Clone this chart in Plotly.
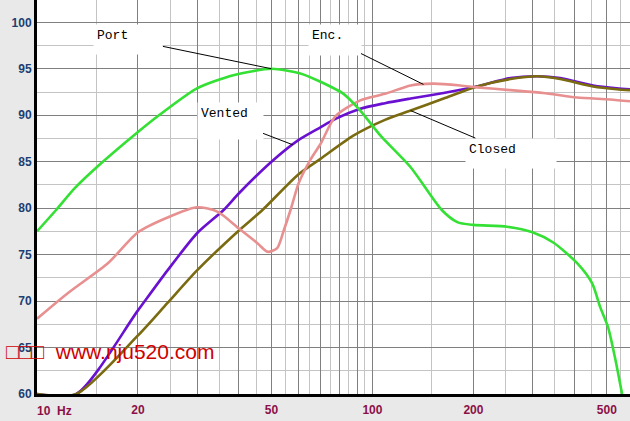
"""SPL response of port, vented, enclosure and closed alignments."""

from __future__ import annotations

import numpy as np
import plotly.graph_objects as go

# curve data: frequency (Hz) and level (dB)
PORT_FREQ = [10, 11.4, 13, 15.5, 20, 23.1, 30, 38.5, 50, 61, 70, 82, 92, 105.7, 130, 161,
             179, 200, 252, 300, 346, 407, 452, 477, 504, 528, 555]
PORT_DB = [77.5, 79.8, 82.2, 84.8, 88.2, 90.0, 92.9, 94.3, 95.0, 94.5, 93.6, 92.3, 90.5, 87.8,
           84.4, 79.8, 78.5, 78.2, 78.0, 77.4, 76.3, 74.1, 71.9, 69.4, 67.2, 64.0, 60.0]

ENC_FREQ = [10, 12.4, 16.3, 20, 24.5, 30, 34.6, 40, 45.5, 48.7, 52, 54.4, 57, 60.3, 65.3, 70,
            77.6, 92, 109, 130, 152, 183, 205, 258, 323, 407, 511, 586]
ENC_DB = [68.1, 70.9, 74.1, 77.4, 79.0, 80.1, 79.6, 77.8, 76.2, 75.3, 75.7, 77.6, 79.8, 82.7,
          85.2, 86.9, 89.9, 91.6, 92.3, 93.2, 93.4, 93.2, 93.0, 92.7, 92.4, 91.9, 91.7, 91.5]

VENTED_FREQ = [10, 13.1, 20, 24.5, 30, 36, 40, 50, 60, 70, 77.6, 92, 109, 130, 163, 205, 258,
               310, 363, 455, 535, 586]
VENTED_DB = [60.0, 60.0, 69.0, 73.3, 77.3, 79.8, 81.6, 85.0, 87.3, 88.7, 89.6, 90.7, 91.3, 91.8,
             92.4, 93.1, 94.0, 94.2, 94.0, 93.2, 92.9, 92.8]

CLOSED_FREQ = [10, 13.1, 20, 24.5, 30, 40, 47, 60, 70, 87.7, 109, 130, 163, 205, 258, 310, 363,
               455, 535, 586]
CLOSED_DB = [60.0, 60.0, 66.3, 69.8, 73.3, 77.6, 79.8, 83.6, 85.3, 87.8, 89.5, 90.5, 91.8, 93.1,
             93.9, 94.2, 93.9, 93.1, 92.8, 92.7]

Y_TICKS = [60, 65, 70, 75, 80, 85, 90, 95, 100]
Y_MINOR = [62.5, 67.5, 72.5, 77.5, 82.5, 87.5, 92.5, 97.5, 102.5]
X_MAJOR = [10, 20, 30, 40, 50, 60, 70, 80, 90, 100, 200, 300, 400, 500]
X_MINOR = [15, 25, 35, 45, 55, 65, 75, 85, 95, 150, 250, 350, 450, 550]
X_LABELS = {20: "20", 50: "50", 100: "100", 200: "200", 500: "500"}

# label text, curve it points at, frequency of the leader end, box size, pixel offset
LABELS = [
    ("Port", "port", 50, 68, 29, -143, -29.5),
    ("Enc.", "enc", 142, 52, 30, -89, -44),
    ("Vented", "vented", 57.8, 65, 36, -62.5, -24),
    ("Closed", "closed", 130, 90, 29, 100, 42.5),
]

CURVES = {
    "closed": (CLOSED_FREQ, CLOSED_DB, "#7a6a10"),
    "vented": (VENTED_FREQ, VENTED_DB, "#6a10d0"),
    "enc": (ENC_FREQ, ENC_DB, "#e89090"),
    "port": (PORT_FREQ, PORT_DB, "#33e033"),
}
DRAW_ORDER = ["vented", "closed", "enc", "port"]
PAD = 3


def level_at(key: str, freq: float) -> float:
    """Interpolate a curve's level on the log-frequency axis."""

    f, db, _ = CURVES[key]
    return float(np.interp(np.log10(freq), np.log10(f), db))


fig = go.Figure()
for key in DRAW_ORDER:
    f, db, color = CURVES[key]
    fig.add_trace(
        go.Scatter(
            x=f,
            y=db,
            mode="lines",
            name=key,
            line={"color": color, "width": 2.6, "shape": "spline", "smoothing": 0.7},
            showlegend=False,
        )
    )

for text, key, freq, w, h, ax, ay in LABELS:
    fig.add_annotation(
        x=np.log10(freq),
        y=level_at(key, freq),
        text=text,
        showarrow=True,
        arrowhead=0,
        arrowwidth=1,
        arrowcolor="black",
        standoff=0,
        ax=ax,
        ay=ay,
        width=w - 2 * PAD,
        height=h - 2 * PAD,
        align="left",
        valign="top",
        bgcolor="white",
        borderpad=PAD,
        font={"family": "Liberation Mono", "size": 13, "color": "black"},
    )

fig.add_annotation(
    x=-0.004,
    y=-0.043,
    xref="paper",
    yref="paper",
    xanchor="left",
    yanchor="middle",
    text="10  Hz",
    showarrow=False,
    font={"family": "Liberation Sans", "size": 12, "color": "#8b1048", "weight": "bold"},
)
fig.add_annotation(
    x=-0.056,
    y=0.107,
    xref="paper",
    yref="paper",
    xanchor="left",
    yanchor="middle",
    text="□□□&nbsp; www.nju520.com",
    showarrow=False,
    font={"family": "Liberation Sans", "size": 21, "color": "#d00000"},
)

fig.update_xaxes(
    type="log",
    range=[1, np.log10(586)],
    tickvals=X_MAJOR,
    ticktext=[X_LABELS.get(v, "") for v in X_MAJOR],
    tickfont={"family": "Liberation Sans", "size": 12, "color": "#8b1048", "weight": "bold"},
    ticklabelstandoff=3,
    showgrid=True,
    gridcolor="#808080",
    gridwidth=1,
    minor={"tickvals": X_MINOR, "showgrid": True, "gridcolor": "#c4c4c4", "gridwidth": 1},
    showline=True,
    linecolor="black",
    linewidth=3,
    ticks="",
    zeroline=False,
)
fig.update_yaxes(
    range=[60, 102.4],
    tickvals=Y_TICKS,
    ticktext=[str(v) for v in Y_TICKS],
    tickfont={"family": "Liberation Sans", "size": 12, "color": "#1b3f73", "weight": "bold"},
    showgrid=True,
    gridcolor="#808080",
    gridwidth=1,
    minor={"tickvals": Y_MINOR, "showgrid": True, "gridcolor": "#c4c4c4", "gridwidth": 1},
    showline=True,
    linecolor="black",
    linewidth=3,
    ticks="",
    zeroline=False,
)
fig.update_layout(
    width=630,
    height=421,
    margin={"l": 37, "r": 0, "t": 0, "b": 27},
    paper_bgcolor="#e9e9e9",
    plot_bgcolor="white",
    showlegend=False,
)
fig.write_html(
    "out.html",
    config={"displayModeBar": False},
    post_script="document.body.style.margin = '0';",
)
